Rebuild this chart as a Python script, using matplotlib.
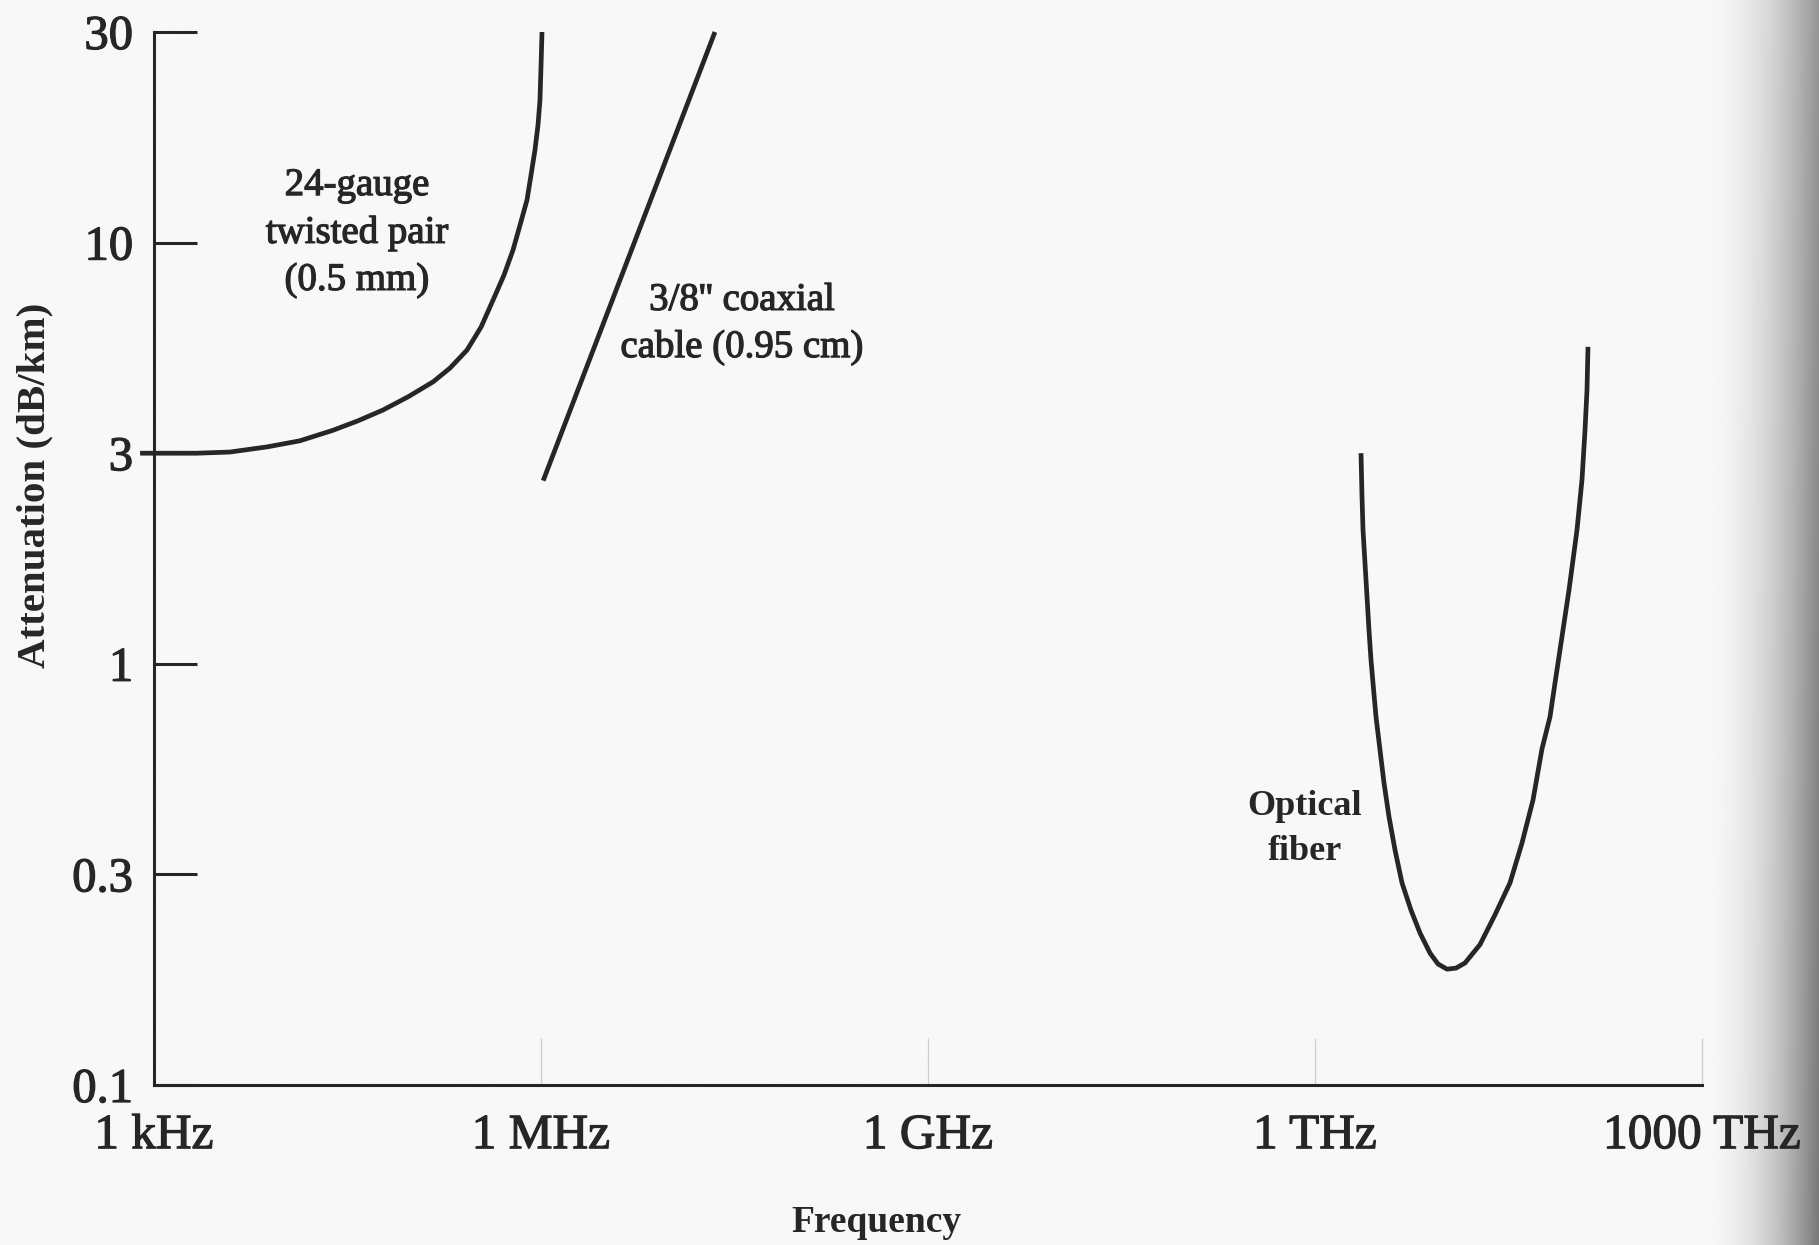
import numpy as np
import matplotlib
matplotlib.use("Agg")
import matplotlib.pyplot as plt
import matplotlib.patheffects as pe
from matplotlib.ticker import NullLocator

# ---- data: attenuation (dB/km) versus frequency (Hz) ----
tp_freq = [7.8e2, 1.33e3, 2.15e3, 3.88e3, 7.52e3, 1.35e4, 2.44e4, 3.81e4,
           5.96e4, 9.31e4, 1.455e5, 1.97e5, 2.67e5, 3.43e5, 4.25e5, 5.17e5,
           6.07e5, 6.88e5, 7.79e5, 8.37e5, 8.98e5, 9.48e5, 9.82e5, 1.0e6, 1.018e6]
tp_att = [3.0, 3.0, 3.0, 3.02, 3.11, 3.22, 3.42, 3.61,
          3.84, 4.14, 4.51, 4.88, 5.41, 6.17, 7.20, 8.31,
          9.59, 10.96, 12.49, 14.23, 16.21, 18.47, 21.04, 25.0, 30.0]

coax_freq = [1.04e6, 2.23e7]
coax_att = [2.6, 30.0]

fiber_freq = [2.273e12, 2.314e12, 2.356e12, 2.441e12, 2.530e12, 2.622e12,
              2.717e12, 2.816e12, 2.971e12, 3.191e12, 3.427e12, 3.746e12,
              4.171e12, 4.726e12, 5.548e12, 6.516e12, 7.790e12, 8.986e12,
              1.055e13, 1.239e13, 1.455e13, 1.901e13, 2.485e13, 3.248e13,
              4.024e13, 4.897e13, 5.750e13, 6.632e13, 7.252e13, 7.929e13,
              9.311e13, 1.074e14, 1.174e14, 1.239e14, 1.284e14, 1.307e14]
fiber_att = [3.00, 2.39, 2.01, 1.69, 1.42, 1.19,
             1.02, 0.896, 0.738, 0.611, 0.506, 0.417,
             0.345, 0.287, 0.249, 0.221, 0.199, 0.188,
             0.183, 0.184, 0.189, 0.208, 0.243, 0.287,
             0.359, 0.459, 0.615, 0.738, 0.896, 1.075,
             1.47, 2.01, 2.61, 3.42, 4.31, 5.51]

x_ticks = [1e3, 1e6, 1e9, 1e12, 1e15]
x_labels = ["1 kHz", "1 MHz", "1 GHz", "1 THz", "1000 THz"]
y_ticks = [0.1, 0.3, 1, 3, 10, 30]
y_labels = ["0.1", "0.3", "1", "3", "10", "30"]

# ---- vertical scale: the labelled values are evenly spaced ----
LOGT = np.log10(np.array(y_ticks, dtype=float))
IDX = np.arange(len(LOGT), dtype=float)


def _fwd(v):
    v = np.asarray(v, dtype=float)
    lv = np.log10(np.clip(v, 1e-12, None))
    out = np.interp(lv, LOGT, IDX)
    lo_slope = 1.0 / (LOGT[1] - LOGT[0])
    hi_slope = 1.0 / (LOGT[-1] - LOGT[-2])
    out = np.where(lv < LOGT[0], (lv - LOGT[0]) * lo_slope, out)
    out = np.where(lv > LOGT[-1], IDX[-1] + (lv - LOGT[-1]) * hi_slope, out)
    return out


def _inv(p):
    p = np.asarray(p, dtype=float)
    lv = np.interp(p, IDX, LOGT)
    lv = np.where(p < 0, LOGT[0] + p * (LOGT[1] - LOGT[0]), lv)
    lv = np.where(p > IDX[-1], LOGT[-1] + (p - IDX[-1]) * (LOGT[-1] - LOGT[-2]), lv)
    return 10.0 ** lv


INK = "#262626"
SERIF = ["Liberation Serif", "DejaVu Serif"]
plt.rcParams["font.family"] = SERIF
INKFX = [pe.withStroke(linewidth=0.9, foreground=INK)]

W, H = 1819, 1245
fig = plt.figure(figsize=(W / 100, H / 100), dpi=100, facecolor="#f8f8f8")

# page shading toward the right edge
bg = fig.add_axes([0, 0, 1, 1], zorder=-10)
cols = np.arange(W, dtype=float)
rows = np.linspace(0, 1, 60)[:, None]
t = np.clip((cols - 1700) / 119.0, 0, 1)[None, :]
depth = 0.40 + 0.12 * rows
shade = 0.972 - depth * t ** 2
bg.imshow(shade, cmap="gray", vmin=0, vmax=1, origin="upper",
          aspect="auto", extent=[0, 1, 0, 1], interpolation="bilinear")
bg.set_axis_off()

ax = fig.add_axes([154 / W, 1 - 1085 / H, (1702 - 154) / W, (1085 - 32) / H])
ax.patch.set_alpha(0)

ax.set_xscale("log")
ax.set_yscale("function", functions=(_fwd, _inv))
ax.set_xlim(1e3, 1e15)
ax.set_ylim(0.1, 30)

line_kw = dict(color=INK, lw=3.4, solid_capstyle="butt", solid_joinstyle="round",
               clip_on=False)
ax.plot(tp_freq, tp_att, **line_kw)
ax.plot(coax_freq, coax_att, **line_kw)
ax.plot(fiber_freq, fiber_att, **line_kw)

for side in ("top", "right"):
    ax.spines[side].set_visible(False)
for side in ("left", "bottom"):
    ax.spines[side].set_linewidth(2.2)
    ax.spines[side].set_color(INK)

ax.set_yticks(y_ticks)
ax.set_yticklabels(y_labels)
ax.yaxis.set_minor_locator(NullLocator())
ax.tick_params(axis="y", direction="in", length=31, width=2.2, color=INK,
               labelsize=35, pad=15, labelcolor=INK)

ax.set_xticks(x_ticks)
ax.set_xticklabels(x_labels)
ax.xaxis.set_minor_locator(NullLocator())
ax.tick_params(axis="x", direction="in", length=34, width=0.9, color="#cfcfcf",
               labelsize=35.5, pad=21, labelcolor=INK)

for lab in ax.get_xticklabels() + ax.get_yticklabels():
    lab.set_path_effects(INKFX)

ax.set_xlabel("Frequency", fontsize=27, fontweight="bold", color=INK)
ax.xaxis.set_label_coords((876 - 154) / 1548, (1085 - 1222) / 1053)
ax.xaxis.label.set_va("center")
ax.set_ylabel("Attenuation (dB/km)", fontsize=29.5, fontweight="bold", color=INK)
ax.yaxis.set_label_coords((35 - 154) / 1548, (1085 - 485) / 1053)
ax.yaxis.label.set_va("center")

# curve labels
ax.annotate("24-gauge\ntwisted pair\n(0.5 mm)", xy=(357, H - 233),
            xycoords="figure pixels", ha="center", va="center", fontsize=28,
            color=INK, linespacing=1.36, path_effects=INKFX)
ax.annotate("3/8'' coaxial\ncable (0.95 cm)", xy=(742, H - 324),
            xycoords="figure pixels", ha="center", va="center", fontsize=28,
            color=INK, linespacing=1.36, path_effects=INKFX)
ax.annotate("Optical\nfiber", xy=(1305, H - 829),
            xycoords="figure pixels", ha="center", va="center", fontsize=26,
            fontweight="bold", color=INK, linespacing=1.5)

fig.savefig("out.png", dpi=100, facecolor=fig.get_facecolor())
